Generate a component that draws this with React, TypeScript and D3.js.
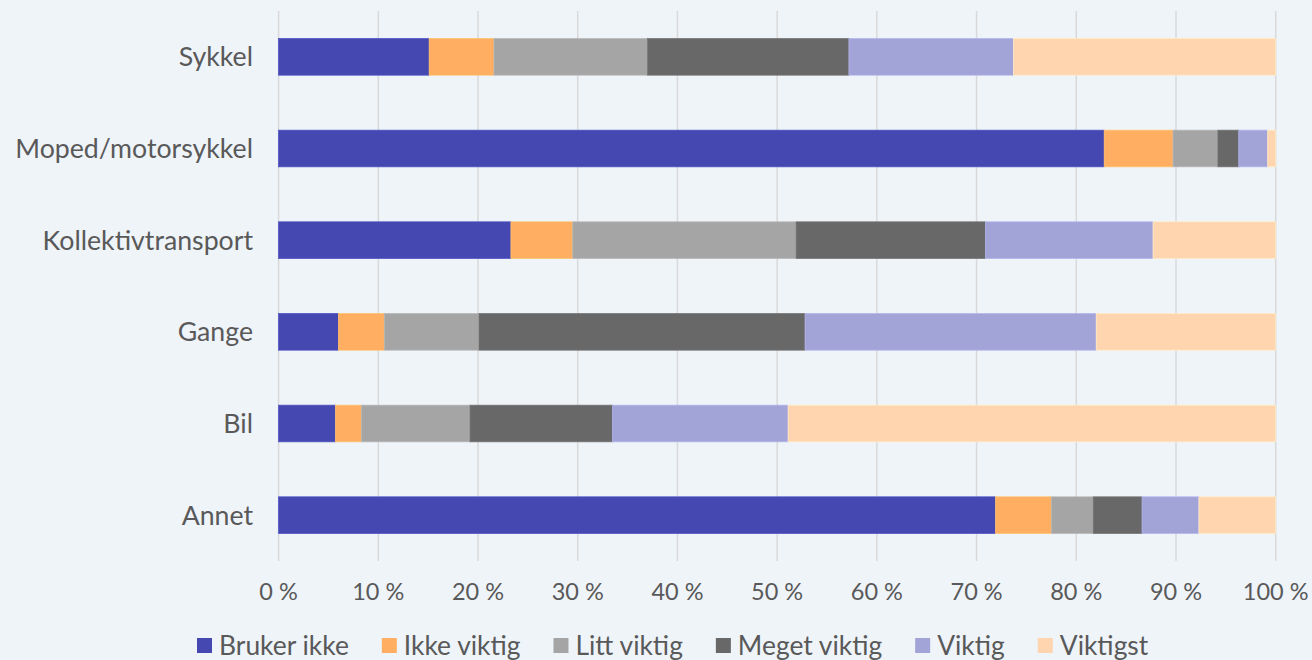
import React, { useEffect, useRef } from "react";
import * as d3 from "d3";

const categories = ["Sykkel", "Moped/motorsykkel", "Kollektivtransport", "Gange", "Bil", "Annet"];
const seriesNames = ["Bruker ikke", "Ikke viktig", "Litt viktig", "Meget viktig", "Viktig", "Viktigst"];
const seriesColors = ["#4548B0", "#FFAE62", "#A5A5A5", "#686868", "#A2A3D7", "#FFD5B0"];
const brukerIkke = [15.1, 82.8, 23.3, 6.0, 5.7, 71.9];
const ikkeViktig = [6.5, 6.9, 6.2, 4.6, 2.6, 5.6];
const littViktig = [15.4, 4.5, 22.4, 9.5, 10.9, 4.2];
const megetViktig = [20.2, 2.1, 19.0, 32.7, 14.3, 4.9];
const viktig = [16.5, 2.9, 16.8, 29.2, 17.6, 5.7];
const viktigst = [26.3, 0.8, 12.3, 18.0, 48.9, 7.7];
const tickValues = [0, 10, 20, 30, 40, 50, 60, 70, 80, 90, 100];

const W = 1312;
const H = 660;
const FONT = "Lato, 'Open Sans', sans-serif";
const TEXT = "#595959";

export default function App() {
  const ref = useRef<SVGSVGElement>(null);

  useEffect(() => {
    const svg = d3.select(ref.current);
    svg.selectAll("*").remove();

    const seriesValues = [brukerIkke, ikkeViktig, littViktig, megetViktig, viktig, viktigst];
    const rows = categories.map((c, i) => {
      const r: any = { cat: c };
      seriesNames.forEach((s, j) => (r[s] = seriesValues[j][i]));
      return r;
    });
    const stack = d3.stack<any>().keys(seriesNames);
    const stacked = stack(rows);

    const x = d3.scaleLinear().domain([0, 100]).range([278.6, 1275.7]);
    const y = d3
      .scaleBand<string>()
      .domain(categories)
      .range([11, 561])
      .paddingInner(0.6)
      .paddingOuter(0.3);

    svg.append("rect").attr("width", W).attr("height", H).attr("fill", "#EFF4F9");

    // gridlines
    svg
      .append("g")
      .selectAll("line")
      .data(tickValues)
      .join("line")
      .attr("x1", (d) => x(d))
      .attr("x2", (d) => x(d))
      .attr("y1", 11)
      .attr("y2", 561)
      .attr("stroke", "#D9D9D9")
      .attr("stroke-width", 1.5);

    // bars
    const g = svg.append("g");
    stacked.forEach((layer, j) => {
      g.append("g")
        .selectAll("rect")
        .data(layer)
        .join("rect")
        .attr("x", (d) => x(d[0]))
        .attr("width", (d) => Math.max(0, x(d[1]) - x(d[0])))
        .attr("y", (d) => y(d.data.cat)!)
        .attr("height", y.bandwidth())
        .attr("fill", seriesColors[j])
        .attr("stroke", d3.color(seriesColors[j])!.brighter(0.3).formatHex())
        .attr("stroke-width", 0.75);
    });

    // category labels
    svg
      .append("g")
      .selectAll("text")
      .data(categories)
      .join("text")
      .attr("x", 253)
      .attr("y", (d) => y(d)! + y.bandwidth() / 2)
      .attr("dy", "0.35em")
      .attr("text-anchor", "end")
      .attr("font-family", FONT)
      .attr("font-size", 26.7)
      .attr("fill", TEXT)
      .text((d) => d);

    // tick labels
    svg
      .append("g")
      .selectAll("text")
      .data(tickValues)
      .join("text")
      .attr("x", (d) => x(d))
      .attr("y", 592)
      .attr("dy", "0.35em")
      .attr("text-anchor", "middle")
      .attr("font-family", FONT)
      .attr("font-size", 23.5)
      .attr("fill", TEXT)
      .text((d) => `${d} %`);

    // legend
    const lg = svg.append("g");
    let cx = 197;
    seriesNames.forEach((s, j) => {
      lg.append("rect")
        .attr("x", cx)
        .attr("y", 638)
        .attr("width", 15)
        .attr("height", 15)
        .attr("fill", seriesColors[j]);
      const t = lg
        .append("text")
        .attr("x", cx + 22)
        .attr("y", 646)
        .attr("dy", "0.35em")
        .attr("font-family", FONT)
        .attr("font-size", 26.4)
        .attr("fill", TEXT)
        .text(s);
      const w = (t.node() as SVGTextElement).getComputedTextLength();
      cx = cx + 22 + w + 33;
    });
  }, []);

  return (
    <svg
      ref={ref}
      width={W}
      height={H}
      style={{ position: "absolute", left: 0, top: 0, display: "block" }}
    />
  );
}
